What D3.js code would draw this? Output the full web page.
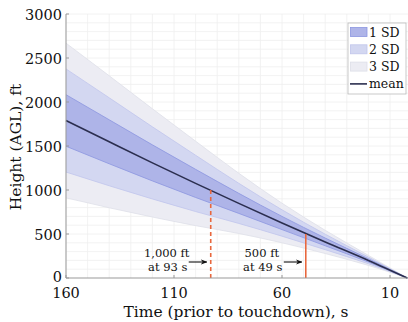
<!DOCTYPE html>
<html><head><meta charset="utf-8">
<script src="https://cdn.jsdelivr.net/npm/d3@7"></script>
<style>
body{margin:0;background:#fff;}
</style></head>
<body><svg id="c" width="408" height="322"></svg>
<script>
// Data
const times = [160, 140, 120, 100, 80, 60, 40, 20, 2];
const meanHeight = [1790, 1548, 1308, 1075, 848, 625, 410, 200, 0];
const sdHeight = [293, 250, 205, 160, 114, 75, 44, 19, 0];
const xTicks = [160, 110, 60, 10];
const yTicks = [0, 500, 1000, 1500, 2000, 2500, 3000];
const markers = [
  {t: 93, h: 1000, line1: "1,000 ft", line2: "at 93 s", dash: true},
  {t: 49, h: 500, line1: "500 ft", line2: "at 49 s", dash: false}
];
const legendItems = ["1 SD", "2 SD", "3 SD", "mean"];

const data = times.map((t, i) => ({t, m: meanHeight[i], s: sdHeight[i]}));
const FONT = "DejaVu Serif";

const svg = d3.select("#c");
const x = d3.scaleLinear().domain([160, 2]).range([66, 407.3]);
const y = d3.scaleLinear().domain([0, 3000]).range([278, 14]);
const curve = d3.curveMonotoneX;

// grid
const g = svg.append("g");
d3.range(10, 161, 10).forEach(v => {
  g.append("line").attr("x1", x(v)).attr("x2", x(v)).attr("y1", y(0)).attr("y2", y(3000))
   .attr("stroke", "#efefef").attr("stroke-width", 0.8);
});
d3.range(100, 3001, 100).forEach(v => {
  g.append("line").attr("x1", x(160)).attr("x2", 408).attr("y1", y(v)).attr("y2", y(v))
   .attr("stroke", "#efefef").attr("stroke-width", 0.8);
});

// bands
const bandFill = ["#aeb4e8", "#d3d7f1", "#ececf3"];
const bandEdge = ["#8c96e0", "#c0c5ec", "#dedfe8"];
[3, 2, 1].forEach(k => {
  const area = d3.area().curve(curve).x(d => x(d.t)).y0(d => y(d.m - k * d.s)).y1(d => y(d.m + k * d.s));
  svg.append("path").datum(data).attr("d", area).attr("fill", bandFill[k - 1]);
  const up = d3.line().curve(curve).x(d => x(d.t)).y(d => y(d.m + k * d.s));
  const lo = d3.line().curve(curve).x(d => x(d.t)).y(d => y(d.m - k * d.s));
  svg.append("path").datum(data).attr("d", up).attr("fill", "none").attr("stroke", bandEdge[k - 1]).attr("stroke-width", 0.8);
  svg.append("path").datum(data).attr("d", lo).attr("fill", "none").attr("stroke", bandEdge[k - 1]).attr("stroke-width", 0.8);
});

// mean
svg.append("path").datum(data)
  .attr("d", d3.line().curve(curve).x(d => x(d.t)).y(d => y(d.m)))
  .attr("fill", "none").attr("stroke", "#2b2e4f").attr("stroke-width", 1.6);

// markers
svg.append("defs").append("marker").attr("id", "ah").attr("viewBox", "0 0 10 10")
  .attr("refX", 9).attr("refY", 5).attr("markerWidth", 6).attr("markerHeight", 6)
  .attr("orient", "auto").append("path").attr("d", "M0,1 L10,5 L0,9 L3,5 Z").attr("fill", "#111");
markers.forEach(mk => {
  svg.append("line").attr("x1", x(mk.t)).attr("x2", x(mk.t)).attr("y1", y(0)).attr("y2", y(mk.h))
    .attr("stroke", "#e8673d").attr("stroke-width", 1.6)
    .attr("stroke-dasharray", mk.dash ? "4,3" : null);
  const xe = x(mk.t) - 4;
  svg.append("line").attr("x1", xe - 18).attr("x2", xe).attr("y1", 262).attr("y2", 262)
    .attr("stroke", "#111").attr("stroke-width", 1.1).attr("marker-end", "url(#ah)");
  svg.append("text").attr("x", xe - 40).attr("y", 256.5).attr("text-anchor", "middle")
    .attr("font-family", FONT).attr("font-size", 11.5).attr("fill", "#111").text(mk.line1);
  svg.append("text").attr("x", xe - 39).attr("y", 271).attr("text-anchor", "middle")
    .attr("font-family", FONT).attr("font-size", 11.5).attr("fill", "#111").text(mk.line2);
});

// axes
const ax = svg.append("g");
ax.append("line").attr("x1", 66).attr("x2", 66).attr("y1", y(0)).attr("y2", y(3000)).attr("stroke", "#999");
ax.append("line").attr("x1", 66).attr("x2", 408).attr("y1", y(0)).attr("y2", y(0)).attr("stroke", "#999");
yTicks.forEach(v => {
  ax.append("line").attr("x1", 66).attr("x2", 69).attr("y1", y(v)).attr("y2", y(v)).attr("stroke", "#999");
  ax.append("text").attr("x", 62).attr("y", y(v) + (v === 0 ? 4 : 5.5)).attr("text-anchor", "end")
    .attr("font-family", FONT).attr("font-size", 14.5).attr("fill", "#111").text(v);
});
xTicks.forEach(v => {
  ax.append("line").attr("x1", x(v)).attr("x2", x(v)).attr("y1", y(0)).attr("y2", y(0) - 3).attr("stroke", "#999");
  ax.append("text").attr("x", x(v)).attr("y", 297.5).attr("text-anchor", "middle")
    .attr("font-family", FONT).attr("font-size", 14.5).attr("fill", "#111").text(v);
});
svg.append("text").attr("x", 236).attr("y", 317).attr("text-anchor", "middle")
  .attr("font-family", FONT).attr("font-size", 15.5).attr("fill", "#111")
  .text("Time (prior to touchdown), s");
svg.append("text").attr("transform", "translate(21,147) rotate(-90)").attr("text-anchor", "middle")
  .attr("font-family", FONT).attr("font-size", 15.5).attr("fill", "#111").text("Height (AGL), ft");

// legend
const lg = svg.append("g");
lg.append("rect").attr("x", 348).attr("y", 23).attr("width", 58).attr("height", 71)
  .attr("fill", "#fff").attr("stroke", "#bbb").attr("stroke-width", 0.8);
legendItems.forEach((name, i) => {
  const cy = 32 + i * 17.3;
  if (i < 3) {
    lg.append("rect").attr("x", 350.5).attr("y", cy - 4.5).attr("width", 16.5).attr("height", 9)
      .attr("fill", bandFill[i]).attr("stroke", bandEdge[i]).attr("stroke-width", 0.8);
  } else {
    lg.append("line").attr("x1", 350).attr("x2", 367).attr("y1", cy).attr("y2", cy)
      .attr("stroke", "#2b2e4f").attr("stroke-width", 1.6);
  }
  lg.append("text").attr("x", 369).attr("y", cy + 4.5)
    .attr("font-family", FONT).attr("font-size", 12.5).attr("fill", "#111").text(name);
});
</script></body></html>
